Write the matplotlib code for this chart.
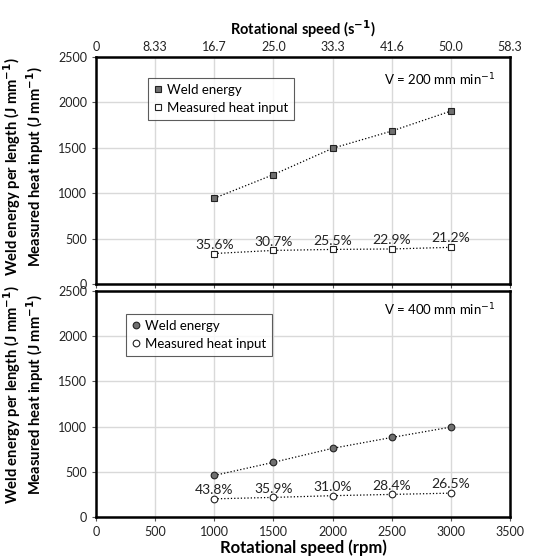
import matplotlib.pyplot as plt

plt.rcParams['font.family'] = ['Lato', 'DejaVu Sans']

# data
rpm = [1000, 1500, 2000, 2500, 3000]

weld_200 = [945, 1205, 1495, 1685, 1905]
heat_200 = [336, 370, 381, 386, 404]
pct_200 = ['35.6%', '30.7%', '25.5%', '22.9%', '21.2%']

weld_400 = [460, 605, 760, 880, 995]
heat_400 = [201, 217, 236, 250, 264]
pct_400 = ['43.8%', '35.9%', '31.0%', '28.4%', '26.5%']

x_ticks = [0, 500, 1000, 1500, 2000, 2500, 3000, 3500]
top_tick_labels = ['0', '8.33', '16.7', '25.0', '33.3', '41.6', '50.0', '58.3']
y_ticks = [0, 500, 1000, 1500, 2000, 2500]

ylabel = 'Weld energy per length (J mm$^{\\mathbf{-1}}$)\nMeasured heat input (J mm$^{\\mathbf{-1}}$)'

fig = plt.figure(figsize=(5.34, 5.57), dpi=100)
ax1 = fig.add_axes([0.1798, 0.4901, 0.7753, 0.4075])
ax2 = fig.add_axes([0.1798, 0.0718, 0.7753, 0.4057])


def style(ax, weld, heat, pct, marker, speed, leg_anchor, v_y, lab_y):
  ax.set_xlim(0, 3500)
  ax.set_ylim(0, 2500)
  ax.set_xticks(x_ticks)
  ax.set_yticks(y_ticks)
  ax.grid(True, color='#d9d9d9', lw=1)
  ax.set_axisbelow(True)
  for s in ax.spines.values():
    s.set_linewidth(1.8)
    s.set_color('black')
  ax.tick_params(labelsize=9, length=3, width=0.8, color='#555555', colors='#222222')
  ax.plot(rpm, weld, ls=':', lw=0.9, color='black', marker=marker, ms=4.8,
          mfc='#707070', mec='#222222', mew=0.8, label='Weld energy')
  ax.plot(rpm, heat, ls=':', lw=0.9, color='black', marker=marker, ms=4.8,
          mfc='white', mec='#222222', mew=0.8, label='Measured heat input')
  for x, y, t in zip(rpm, heat, pct):
    ax.annotate(t, (x, y), xytext=(0, 3.5), textcoords='offset points',
                ha='center', va='baseline', fontsize=10, color='#222222')
  ax.text(0.965, v_y, 'V = %d mm min$^{-1}$' % speed, transform=ax.transAxes,
          ha='right', va='center', fontsize=9.5)
  leg = ax.legend(loc='upper left', bbox_to_anchor=leg_anchor, fontsize=9.5,
                  frameon=True, fancybox=False, handlelength=0.6,
                  handletextpad=0.4, borderpad=0.45, labelspacing=0.45,
                  markerscale=1.0, borderaxespad=0)
  for h in leg.get_lines():
    h.set_linestyle('')
  leg.get_frame().set_edgecolor('#333333')
  leg.get_frame().set_linewidth(0.8)
  ax.set_ylabel(ylabel, fontsize=10.6, fontweight='bold', linespacing=1.05)
  ax.yaxis.set_label_coords(-0.122, lab_y)


style(ax1, weld_200, heat_200, pct_200, 's', 200, (0.126, 0.907), 0.899, 0.515)
style(ax2, weld_400, heat_400, pct_400, 'o', 400, (0.072, 0.898), 0.916, 0.54)

ax1.tick_params(axis='x', labelbottom=False)
ax2.set_xlabel('Rotational speed (rpm)', fontsize=12, fontweight='bold', labelpad=1)

top = ax1.twiny()
top.set_xlim(ax1.get_xlim())
top.set_xticks(x_ticks)
top.set_xticklabels(top_tick_labels)
top.tick_params(labelsize=9, length=0, pad=3, colors='#222222')
for s in top.spines.values():
  s.set_visible(False)
top.set_xlabel('Rotational speed (s$^{\\mathbf{-1}}$)', fontsize=10.5, fontweight='bold', labelpad=4)

fig.savefig('out.png', dpi=100)
